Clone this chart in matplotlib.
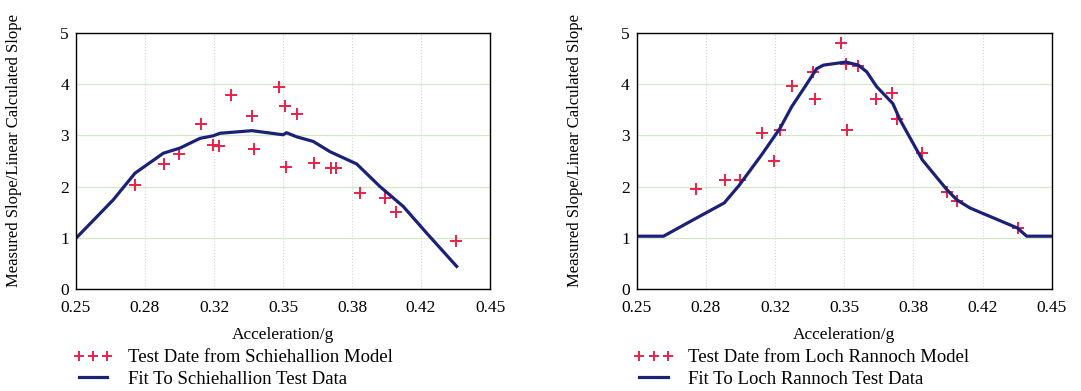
import numpy as np
import matplotlib.pyplot as plt

plt.rcParams['font.family'] = ['Liberation Serif', 'DejaVu Serif']

# acceleration of the test points (same for both models)
accel = [0.2785, 0.2925, 0.2998, 0.3103, 0.3160, 0.3192, 0.3249, 0.3349, 0.3360, 0.3483,
         0.3508, 0.3567, 0.3513, 0.3652, 0.3732, 0.3755, 0.3874, 0.3994, 0.4045, 0.4336]

# Schiehallion model
schie_test = [2.02, 2.44, 2.63, 3.23, 2.81, 2.79, 3.79, 3.38, 2.73, 3.95,
              3.58, 3.41, 2.39, 2.45, 2.36, 2.36, 1.87, 1.77, 1.51, 0.93]
schie_fit_x = [0.25, 0.268, 0.2785, 0.2922, 0.3002, 0.3099, 0.3163, 0.3196, 0.335, 0.350,
               0.3517, 0.3566, 0.3646, 0.3727, 0.3856, 0.3968, 0.4081, 0.4194, 0.4339]
schie_fit_y = [0.99, 1.74, 2.26, 2.65, 2.75, 2.94, 2.99, 3.04, 3.09, 3.01,
               3.05, 2.97, 2.88, 2.68, 2.44, 2.00, 1.61, 1.09, 0.44]

# Loch Rannoch model
loch_test = [1.95, 2.12, 2.12, 3.05, 2.49, 3.10, 3.97, 4.23, 3.70, 4.81,
             4.40, 4.36, 3.10, 3.70, 3.83, 3.31, 2.66, 1.90, 1.72, 1.19]
loch_fit_x = [0.25, 0.2629, 0.2786, 0.2922, 0.2993, 0.3102, 0.3191, 0.3247, 0.3311, 0.3367,
              0.3400, 0.3507, 0.3568, 0.3608, 0.3656, 0.3734, 0.3769, 0.3876, 0.3994, 0.4042,
              0.4106, 0.4334, 0.4379, 0.45]
loch_fit_y = [1.03, 1.03, 1.38, 1.68, 2.02, 2.62, 3.14, 3.56, 3.95, 4.30,
              4.37, 4.43, 4.37, 4.24, 3.95, 3.62, 3.30, 2.52, 1.94, 1.74,
              1.58, 1.19, 1.03, 1.03]

xticks = np.linspace(0.25, 0.45, 7)
xlabels = ['0.25', '0.28', '0.32', '0.35', '0.38', '0.42', '0.45']

red = '#e8204a'
navy = '#1c2178'

fig = plt.figure(figsize=(10.81, 3.91), dpi=100)
ax1 = fig.add_axes([0.0703, 0.261, 0.383, 0.655])
ax2 = fig.add_axes([0.589, 0.261, 0.384, 0.655])

panels = [
    (ax1, schie_test, schie_fit_x, schie_fit_y, 'Schiehallion'),
    (ax2, loch_test, loch_fit_x, loch_fit_y, 'Loch Rannoch'),
]

for ax, test, fx, fy, name in panels:
    ax.set_xlim(0.25, 0.45)
    ax.set_ylim(0, 5)
    ax.set_xticks(xticks)
    ax.set_xticklabels(xlabels)
    ax.set_yticks(range(6))
    ax.tick_params(length=0, labelsize=12.5)
    ax.tick_params(axis='x', pad=8)
    ax.tick_params(axis='y', pad=5)
    ax.yaxis.grid(True, color='#d3e8c4', lw=0.9)
    ax.xaxis.grid(True, color='#cfd6d6', lw=0.8, ls=':')
    ax.set_axisbelow(True)
    for s in ax.spines.values():
        s.set_linewidth(1.0)
    h1, = ax.plot(accel, test, ls='none', marker='+', ms=9, mew=1.4, color=red,
                  label='Test Date from %s Model' % name)
    h2, = ax.plot(fx, fy, color=navy, lw=2.3, label='Fit To %s Test Data' % name)
    ax.set_xlabel('Acceleration/g', fontsize=12.5, labelpad=8)
    ax.set_ylabel('Measured Slope/Linear Calculated Slope', fontsize=12)
    ax.yaxis.set_label_coords(-0.13, 0.54)
    ax.legend(handles=[h1, h2], loc='upper left', bbox_to_anchor=(-0.025, -0.205),
              frameon=False, numpoints=3, markerscale=0.8, fontsize=13.5,
              handlelength=2.1, handletextpad=0.8, labelspacing=0.25, borderaxespad=0)

fig.savefig('out.png', dpi=100)
